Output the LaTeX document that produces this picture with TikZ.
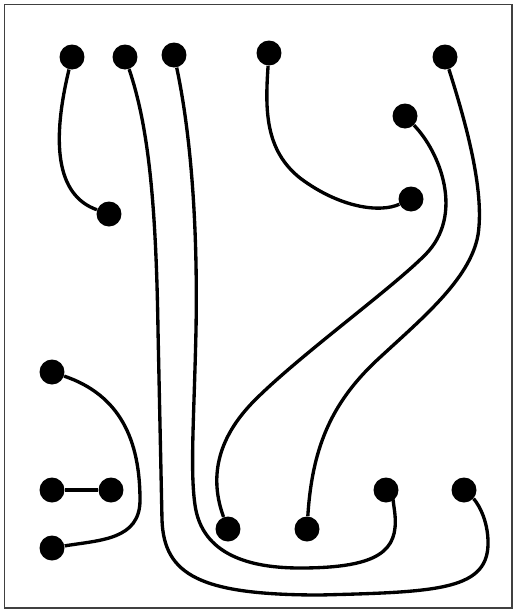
\documentclass[tikz,border=0pt]{standalone}
\usetikzlibrary{positioning}

\begin{document}
\begin{tikzpicture}[
  x=0.02cm, y=-0.02cm,
  dot/.style={circle, fill=black, inner sep=0pt, minimum size=0.5cm},
  wire/.style={line width=1.9pt, draw=black},
  frame/.style={draw=black!75, line width=0.7pt}
]
\useasboundingbox (0,0) rectangle (513,609);
\draw[frame] (4.5,4.3) rectangle (512,608);

% top row
\node[dot] (a1) at (72,57) {};
\node[dot] (a2) at (125,57) {};
\node[dot] (a3) at (174,55) {};
\node[dot] (a4) at (269,53) {};
\node[dot] (a5) at (445,57) {};
\node[dot] (b1) at (405,116) {};
\node[dot] (c1) at (109,214) {};
\node[dot] (c2) at (411,199) {};

% left column
\node[dot] (d1) at (52,372) {};
\node[dot] (e1) at (52,490) {};
\node[dot] (e2) at (111,490) {};
\node[dot] (f1) at (52,548) {};

% bottom row
\node[dot] (g1) at (228,529) {};
\node[dot] (g2) at (307,529) {};
\node[dot] (g3) at (386,490) {};
\node[dot] (g4) at (464,490) {};

\draw[wire] (a1) .. controls (52,140) and (55,195) .. (c1);
\draw[wire] (a2) .. controls (148,125) and (156,200) .. (158,330)
  -- (162,520)
  .. controls (164,575) and (200,595) .. (320,595)
  .. controls (440,592) and (490,590) .. (488,540)
  .. controls (487,515) and (475,500) .. (g4);
\draw[wire] (a3) .. controls (190,130) and (198,220) .. (196,330)
  .. controls (194,420) and (190,470) .. (195,505)
  .. controls (202,555) and (250,568) .. (300,568)
  .. controls (380,568) and (398,550) .. (395,515)
  .. controls (394,505) and (392,497) .. (g3);
\draw[wire] (a4) .. controls (265,110) and (265,150) .. (300,178)
  .. controls (340,208) and (380,213) .. (c2);
\draw[wire] (b1) .. controls (440,152) and (465,215) .. (425,255)
  .. controls (390,290) and (300,355) .. (255,400)
  .. controls (215,440) and (210,480) .. (g1);
\draw[wire] (a5) .. controls (465,120) and (485,190) .. (478,235)
  .. controls (470,280) and (420,320) .. (375,362)
  .. controls (330,405) and (312,450) .. (g2);
\draw[wire] (d1) .. controls (120,395) and (140,440) .. (140,500)
  .. controls (140,540) and (100,540) .. (f1);
\draw[wire] (e1) -- (e2);

\end{tikzpicture}
\end{document}
